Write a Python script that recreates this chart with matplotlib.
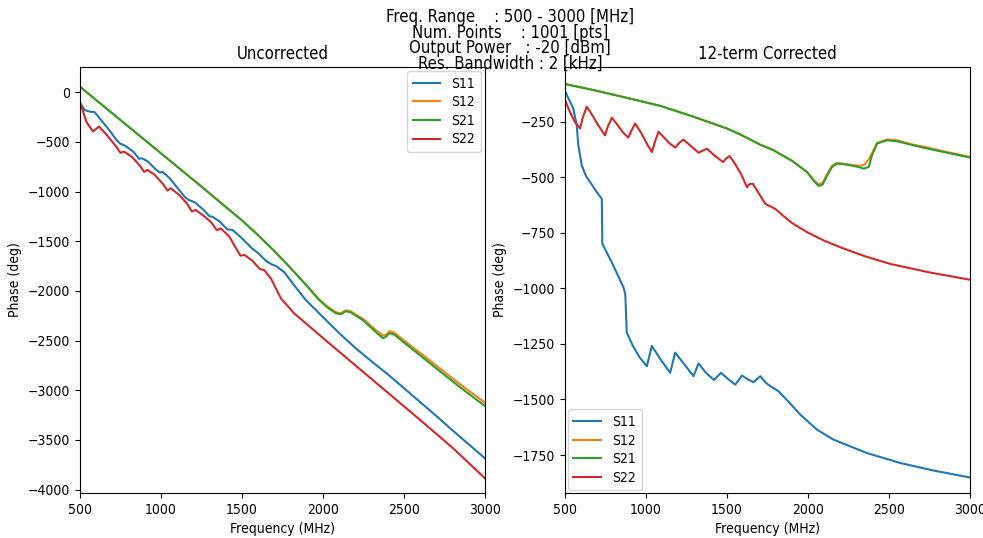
import matplotlib
matplotlib.use("Agg")
import matplotlib.pyplot as plt
import numpy as np

plt.rcParams['font.family'] = ['DejaVu Sans']
plt.rcParams['font.stretch'] = 'condensed'
plt.rcParams['font.size'] = 10

# ---- uncorrected (left) ----
f_l_s11 = [500, 530, 560, 590, 630, 680, 720, 745, 780, 830, 865, 885, 920, 970, 995, 1009,
           1050, 1100, 1150, 1173, 1210, 1260, 1300, 1318, 1360, 1410, 1441, 1480, 1530, 1560,
           1600, 1650, 1678, 1710, 1760, 1820, 1894, 2000, 2100, 2200, 2300, 2400, 2500, 2600,
           2700, 2800, 2900, 3000]
p_l_s11 = [-110, -180, -195, -200, -280, -380, -470, -514, -540, -600, -670, -665, -700, -780, -810, -800,
           -860, -960, -1060, -1085, -1110, -1180, -1250, -1253, -1300, -1380, -1387, -1440, -1520, -1570,
           -1620, -1700, -1729, -1750, -1810, -1940, -2092, -2265, -2425, -2575, -2710, -2840, -2980, -3120,
           -3260, -3405, -3545, -3686]

f_l_s21 = [500, 750, 1000, 1250, 1400, 1500, 1600, 1700, 1800, 1900, 1976, 2030, 2080, 2110, 2140,
           2170, 2250, 2330, 2370, 2390, 2410, 2440, 2500, 2600, 2728, 2850, 3000]
p_l_s21 = [55, -280, -615, -950, -1155, -1290, -1440, -1600, -1770, -1950, -2092, -2170, -2226, -2235, -2205,
           -2215, -2300, -2420, -2477, -2460, -2425, -2440, -2520, -2650, -2818, -2975, -3160]
p_l_s12 = [55, -280, -615, -950, -1155, -1290, -1440, -1600, -1770, -1945, -2085, -2160, -2215, -2225, -2195,
           -2205, -2285, -2400, -2450, -2440, -2405, -2420, -2500, -2625, -2790, -2945, -3126]

f_l_s22 = [500, 540, 580, 617, 660, 720, 750, 772, 820, 870, 895, 916, 960, 1010, 1040, 1060, 1110,
           1160, 1190, 1214, 1260, 1310, 1345, 1368, 1420, 1470, 1490, 1515, 1560, 1610, 1637, 1680,
           1740, 1822, 2000, 2200, 2400, 2600, 2800, 3000]
p_l_s22 = [-100, -300, -395, -346, -420, -540, -610, -598, -650, -740, -800, -782, -830, -920, -990, -967, -1030,
           -1120, -1200, -1185, -1240, -1310, -1390, -1370, -1450, -1590, -1645, -1638, -1690, -1780, -1790, -1880,
           -2075, -2226, -2475, -2750, -3025, -3300, -3580, -3887]

# ---- 12-term corrected (right) ----
f_r_s11 = [500, 551, 572, 582, 603, 630, 655, 690, 727, 730, 737, 800, 861, 872, 881, 920, 960, 1005,
           1036, 1090, 1149, 1180, 1240, 1293, 1324, 1370, 1419, 1463, 1510, 1551, 1592, 1630, 1664,
           1705, 1740, 1767, 1818, 1880, 1952, 2056, 2158, 2364, 2570, 2776, 3000]
p_r_s11 = [-112, -190, -265, -356, -446, -495, -521, -560, -597, -800, -808, -900, -996, -1026, -1199, -1260, -1310, -1350,
           -1259, -1320, -1380, -1289, -1345, -1395, -1338, -1380, -1412, -1380, -1410, -1433, -1392, -1410, -1422,
           -1395, -1425, -1440, -1463, -1510, -1568, -1636, -1681, -1741, -1786, -1820, -1851]

f_r_s21 = [500, 675, 881, 1087, 1293, 1499, 1582, 1705, 1787, 1900, 1994, 2040, 2066, 2090, 2120, 2148,
           2179, 2230, 2282, 2320, 2344, 2375, 2395, 2426, 2488, 2550, 2630, 2715, 2850, 3000]
p_r_s21 = [-80, -107, -142, -178, -227, -280, -307, -353, -378, -425, -476, -520, -539, -532, -490, -453,
           -438, -442, -449, -455, -461, -453, -401, -348, -333, -338, -352, -367, -388, -411]
p_r_s12 = [-80, -107, -142, -178, -227, -280, -307, -353, -378, -425, -476, -515, -532, -525, -482, -448,
           -435, -440, -445, -448, -445, -420, -390, -345, -330, -333, -350, -362, -385, -408]

f_r_s22 = [500, 530, 560, 593, 610, 634, 660, 700, 747, 765, 789, 820, 860, 891, 910, 933, 970, 1010,
           1036, 1055, 1077, 1110, 1150, 1180, 1205, 1231, 1270, 1324, 1350, 1376, 1420, 1475, 1495,
           1516, 1550, 1590, 1623, 1640, 1660, 1690, 1736, 1798, 1850, 1900, 1994, 2100, 2200, 2350,
           2509, 2750, 3000]
p_r_s22 = [-152, -205, -250, -280, -230, -182, -210, -260, -311, -270, -232, -260, -300, -321, -290, -258, -300, -355,
           -386, -340, -295, -320, -350, -366, -345, -330, -355, -389, -380, -371, -400, -431, -415,
           -404, -440, -490, -544, -530, -529, -565, -619, -642, -675, -705, -747, -785, -815, -855,
           -890, -928, -961]

labels = ['S11', 'S12', 'S21', 'S22']

title_txt = ("Freq. Range    : 500 - 3000 [MHz]\n"
             "Num. Points    : 1001 [pts]\n"
             "Output Power   : -20 [dBm]\n"
             "Res. Bandwidth : 2 [kHz]")

fig = plt.figure(figsize=(9.83, 5.38), dpi=100)
ax1 = fig.add_axes([0.0814, 0.0836, 0.412, 0.792])
ax2 = fig.add_axes([0.5748, 0.0836, 0.412, 0.792])

ax1.plot(f_l_s11, p_l_s11, label=labels[0])
ax1.plot(f_l_s21, p_l_s12, label=labels[1])
ax1.plot(f_l_s21, p_l_s21, label=labels[2])
ax1.plot(f_l_s22, p_l_s22, label=labels[3])
ax1.set_xlim(500, 3000)
ax1.set_ylim(-4035, 255)
ax1.set_title("Uncorrected")
ax1.set_xlabel("Frequency (MHz)")
ax1.set_ylabel("Phase (deg)")
ax1.legend(loc='upper right', labelspacing=0.33, borderaxespad=0.3)

ax2.plot(f_r_s11, p_r_s11, label=labels[0])
ax2.plot(f_r_s21, p_r_s12, label=labels[1])
ax2.plot(f_r_s21, p_r_s21, label=labels[2])
ax2.plot(f_r_s22, p_r_s22, label=labels[3])
ax2.set_xlim(500, 3000)
ax2.set_ylim(-1921, -3)
ax2.set_title("12-term Corrected")
ax2.set_xlabel("Frequency (MHz)")
ax2.set_ylabel("Phase (deg)")
ax2.legend(loc='lower left', labelspacing=0.33, borderaxespad=0.2)

fig.suptitle(title_txt, x=0.519, y=0.985, va='top', fontsize=12, linespacing=0.82)

fig.savefig("out.png", dpi=100)
